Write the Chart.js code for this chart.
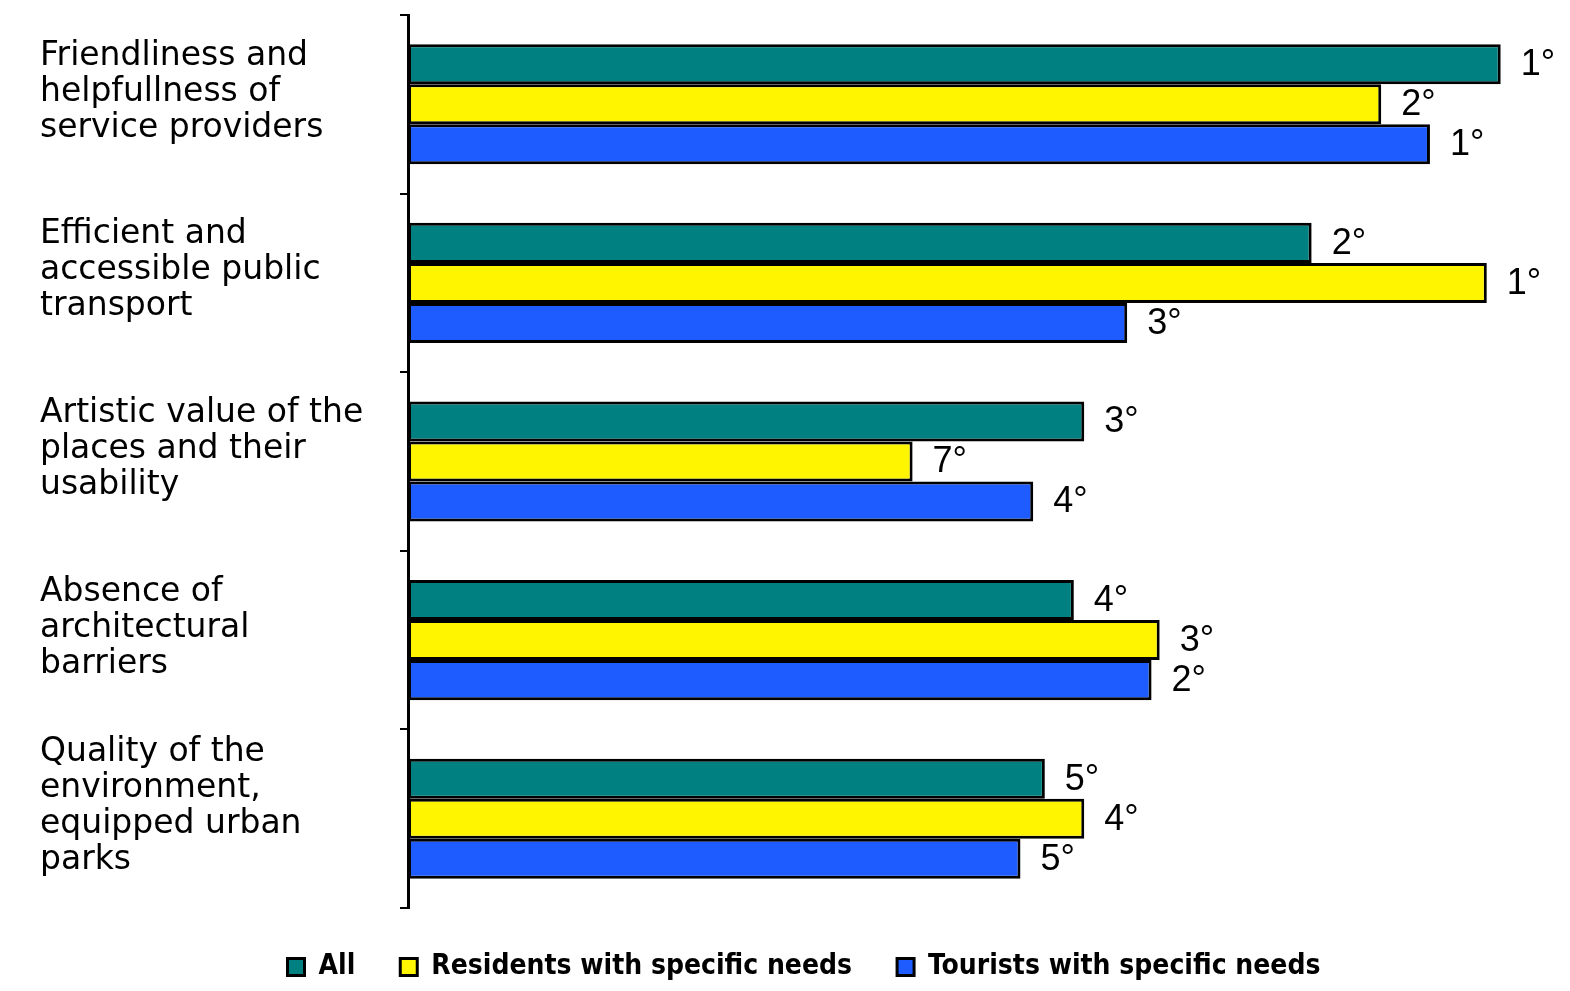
<!DOCTYPE html>
<html>
<head>
<meta charset="utf-8">
<script src="https://cdn.jsdelivr.net/npm/chart.js@4/dist/chart.umd.min.js"></script>
<style>
  html, body { margin: 0; padding: 0; background: #ffffff; }
  #wrap { width: 1570px; height: 991px; position: relative; }
</style>
</head>
<body>
<div id="wrap"><canvas id="c" width="1570" height="991"></canvas></div>
<script>
// ---- data ----
const categories = [
  ["Friendliness and", "helpfullness of", "service providers"],
  ["Efficient and", "accessible public", "transport"],
  ["Artistic value of the", "places and their", "usability"],
  ["Absence of", "architectural", "barriers"],
  ["Quality of the", "environment,", "equipped urban", "parks"]
];
const seriesNames = ["All", "Residents with specific needs", "Tourists with specific needs"];
const valuesAll = [94.2, 77.9, 58.3, 57.4, 54.9];
const valuesResidents = [83.9, 93.0, 43.5, 64.8, 58.3];
const valuesTourists = [88.1, 62.0, 53.9, 64.1, 52.8];
const ranksAll = ["1°", "2°", "3°", "4°", "5°"];
const ranksResidents = ["2°", "1°", "7°", "3°", "4°"];
const ranksTourists = ["1°", "3°", "4°", "2°", "5°"];

const colors = ["#008080", "#FFF500", "#1E5CFF"];

const rankLabels = {
  id: 'rankLabels',
  afterDatasetsDraw(chart) {
    const ctx = chart.ctx;
    ctx.save();
    ctx.font = '36px "Liberation Sans", Arial, sans-serif';
    ctx.fillStyle = '#000';
    ctx.textBaseline = 'middle';
    ctx.textAlign = 'left';
    chart.data.datasets.forEach((ds, di) => {
      const meta = chart.getDatasetMeta(di);
      meta.data.forEach((bar, i) => {
        ctx.fillText(ds.ranks[i], bar.x + 20, bar.y + 1);
      });
    });
    ctx.restore();
  }
};

new Chart(document.getElementById('c'), {
  type: 'bar',
  data: {
    labels: categories,
    datasets: [
      { label: seriesNames[0], data: valuesAll, ranks: ranksAll, backgroundColor: colors[0] },
      { label: seriesNames[1], data: valuesResidents, ranks: ranksResidents, backgroundColor: colors[1] },
      { label: seriesNames[2], data: valuesTourists, ranks: ranksTourists, backgroundColor: colors[2] }
    ].map(d => Object.assign(d, { borderColor: '#000', borderWidth: 3, borderSkipped: false }))
  },
  options: {
    indexAxis: 'y',
    responsive: false,
    animation: false,
    devicePixelRatio: 1,
    categoryPercentage: 0.6726,
    barPercentage: 1.0,
    layout: { padding: { top: 15, right: 2, bottom: 0, left: 40 } },
    scales: {
      x: { display: false, min: 0, max: 100 },
      y: {
        grid: { display: true, drawOnChartArea: false, drawTicks: true, tickLength: 8, color: '#000', lineWidth: 2, offset: true },
        border: { display: true, color: '#000', width: 3 },
        ticks: {
          color: '#000',
          crossAlign: 'far',
          padding: 20,
          labelOffset: -12,
          font: { family: '"DejaVu Sans", Verdana, sans-serif', size: 33, lineHeight: '36px' }
        },
        afterFit(scale) {
          scale.width = 368;
          scale.paddingTop = 0;
          scale.paddingBottom = 0;
        }
      }
    },
    plugins: {
      tooltip: { enabled: false },
      legend: {
        position: 'bottom',
        align: 'center',
        labels: {
          color: '#000',
          boxWidth: 17,
          boxHeight: 17,
          padding: 45,
          font: { family: '"DejaVu Sans Condensed", "DejaVu Sans", sans-serif', weight: 'bold', size: 28 }
        }
      }
    }
  },
  plugins: [rankLabels]
});
</script>
</body>
</html>
